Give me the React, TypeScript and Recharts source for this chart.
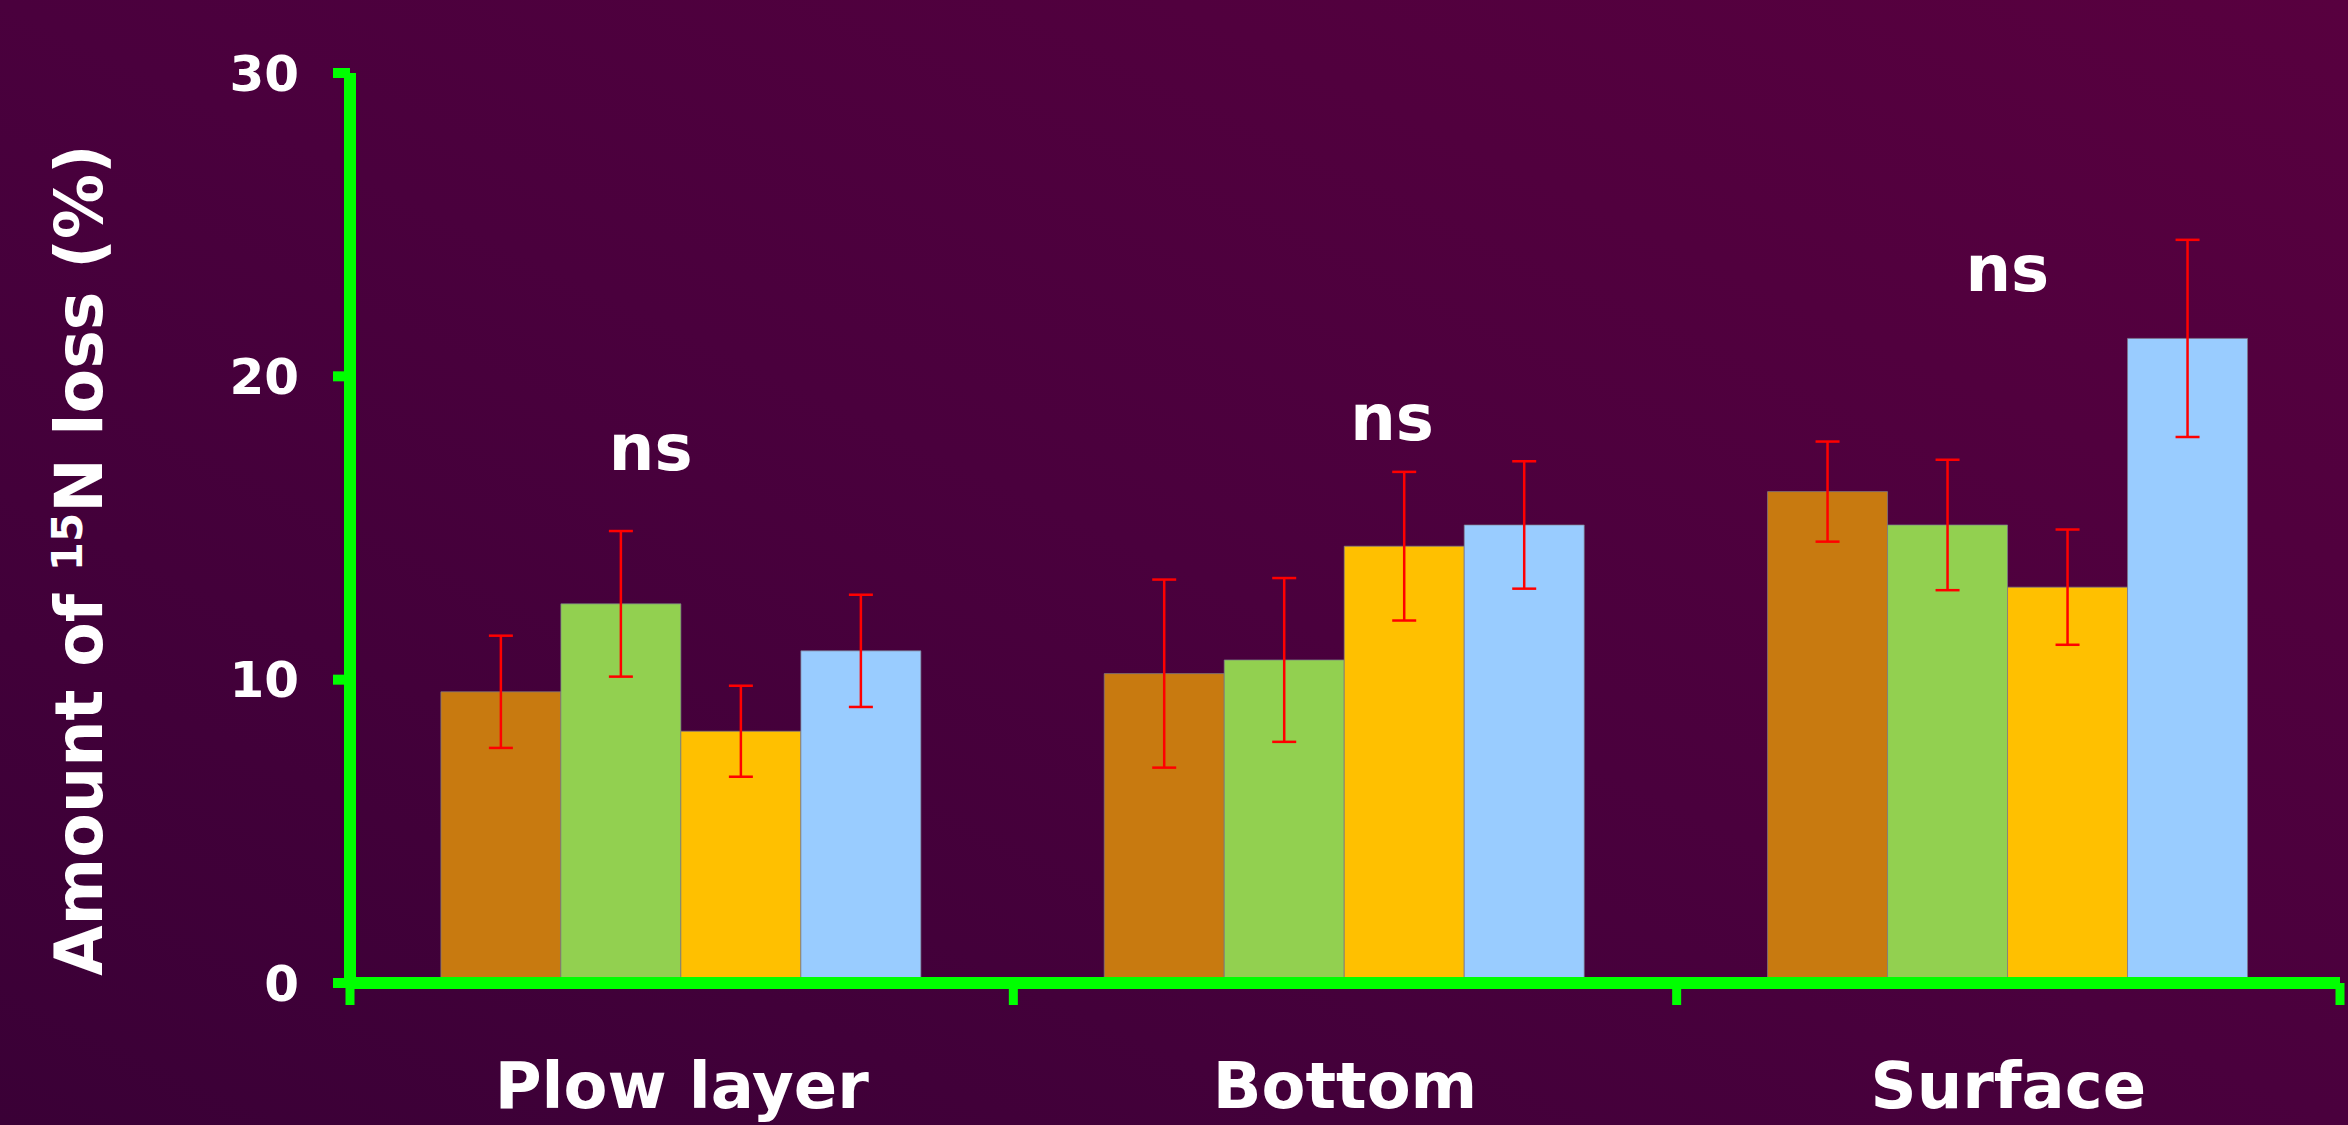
import React from 'react';
import { BarChart, Bar, XAxis, YAxis, ErrorBar, ReferenceDot } from 'recharts';

// Values (amount of 15N loss, %)
const categories = ['Plow layer', 'Bottom', 'Surface'];
const orangeValues = [9.6, 10.2, 16.2];
const orangeErrors = [1.85, 3.1, 1.65];
const greenValues = [12.5, 10.65, 15.1];
const greenErrors = [2.4, 2.7, 2.15];
const yellowValues = [8.3, 14.4, 13.05];
const yellowErrors = [1.5, 2.45, 1.9];
const blueValues = [10.95, 15.1, 21.25];
const blueErrors = [1.85, 2.1, 3.25];
const yTicks = [0, 10, 20, 30];
const nsLabels = ['ns', 'ns', 'ns'];
const nsHeights = [16.9, 17.9, 22.8];

const data = categories.map((category, i) => ({
  category,
  orange: orangeValues[i],
  orangeErr: orangeErrors[i],
  green: greenValues[i],
  greenErr: greenErrors[i],
  yellow: yellowValues[i],
  yellowErr: yellowErrors[i],
  blue: blueValues[i],
  blueErr: blueErrors[i],
}));

const series = [
  { key: 'orange', color: '#C87A10' },
  { key: 'green', color: '#92D050' },
  { key: 'yellow', color: '#FFC000' },
  { key: 'blue', color: '#99CCFF' },
];

const FONT = '"DejaVu Sans", Verdana, sans-serif';
const GREEN = '#00FF00';
// horizontal nudge of each "ns" mark from its category centre
const nsShift = [-31, 47, -1];

const CategoryTick = (props: any) => {
  const { x, y, payload, index, visibleTicksCount } = props;
  const half = payload && payload.offset ? payload.offset : 331.7;
  return (
    <g>
      <line x1={x - half} x2={x - half} y1={y} y2={y + 22} stroke={GREEN} strokeWidth={9} />
      {index === visibleTicksCount - 1 && (
        <line x1={x + half} x2={x + half} y1={y} y2={y + 22} stroke={GREEN} strokeWidth={9} />
      )}
      <text
        x={x}
        y={y + 125}
        textAnchor="middle"
        fill="#FFFFFF"
        fontSize={64}
        fontWeight="bold"
        fontFamily={FONT}
      >
        {payload.value}
      </text>
    </g>
  );
};

const YTitle = (props: any) => {
  const vb = props.viewBox || { x: 0, y: 73, width: 350, height: 910 };
  const cx = 102;
  const cy = vb.y + vb.height / 2 + 32;
  return (
    <text
      x={cx}
      y={cy}
      transform={`rotate(-90, ${cx}, ${cy})`}
      textAnchor="middle"
      fill="#FFFFFF"
      fontSize={65}
      fontWeight="bold"
      fontFamily={FONT}
    >
      Amount of <tspan fontSize={42} dy={-20}>15</tspan>
      <tspan dy={20}>N loss (%)</tspan>
    </text>
  );
};

const nsContent = (i: number) => (props: any) => {
  const vb = props.viewBox || { x: 0, y: 0, width: 0, height: 0 };
  const cx = vb.x + (vb.width || 0) / 2;
  const cy = vb.y + (vb.height || 0) / 2;
  return (
    <text
      x={cx + nsShift[i]}
      y={cy}
      textAnchor="middle"
      fill="#FFFFFF"
      fontSize={64}
      fontWeight="bold"
      fontFamily={FONT}
    >
      {nsLabels[i]}
    </text>
  );
};

const App: React.FC = () => {
  return (
    <div
      style={{
        position: 'absolute',
        left: 0,
        top: 0,
        width: 2348,
        height: 1125,
        background: 'linear-gradient(to top right, #3a0036 0%, #4a003d 50%, #58003f 100%)',
      }}
    >
      <BarChart
        width={2348}
        height={1125}
        data={data}
        margin={{ top: 73, right: 8, left: 0, bottom: 0 }}
        barCategoryGap="13.7%"
        barGap={0}
      >
        <XAxis
          dataKey="category"
          height={142}
          interval={0}
          axisLine={{ stroke: GREEN, strokeWidth: 12 }}
          tickLine={false}
          tickSize={0}
          tickMargin={0}
          tick={<CategoryTick />}
        />
        <YAxis
          width={350}
          domain={[0, 30]}
          ticks={yTicks}
          interval={0}
          axisLine={{ stroke: GREEN, strokeWidth: 12 }}
          tickLine={{ stroke: GREEN, strokeWidth: 10 }}
          tickSize={17}
          tickMargin={34}
          tick={{ fill: '#FFFFFF', fontSize: 50, fontWeight: 'bold', fontFamily: FONT }}
          label={<YTitle />}
        />
        {series.map((s) => (
          <Bar
            key={s.key}
            dataKey={s.key}
            fill={s.color}
            stroke="#7a7a8a"
            strokeOpacity={0.7}
            strokeWidth={1}
            isAnimationActive={false}
          >
            <ErrorBar
              dataKey={`${s.key}Err`}
              width={12}
              stroke="#FF0000"
              strokeWidth={2.5}
              direction="y"
            />
          </Bar>
        ))}
        {categories.map((c, i) => (
          <ReferenceDot
            key={c}
            x={c}
            y={nsHeights[i]}
            r={0}
            fill="none"
            stroke="none"
            ifOverflow="visible"
            label={{ content: nsContent(i) }}
          />
        ))}
      </BarChart>
    </div>
  );
};

export default App;
